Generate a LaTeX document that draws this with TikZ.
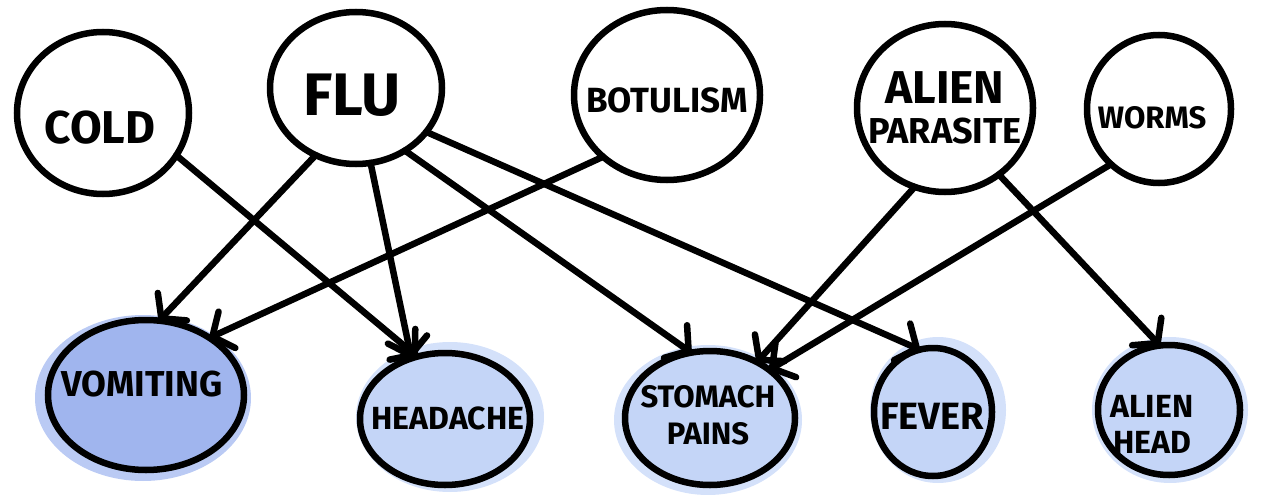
\documentclass[tikz,border=0pt]{standalone}
\usepackage{fontspec}
\setmainfont{Fira Sans}
\usetikzlibrary{shapes.geometric,arrows.meta}
\definecolor{blueA}{RGB}{160,181,238}
\definecolor{blueB}{RGB}{196,213,247}
\definecolor{haloA}{RGB}{186,202,244}
\definecolor{haloB}{RGB}{212,225,250}
\begin{document}
\begin{tikzpicture}[x=1pt,y=-1pt,
  circ/.style={ellipse, draw, line width=6.5pt, inner sep=0pt, outer sep=0pt},
  obsA/.style={circ, fill=blueA},
  obsB/.style={circ, fill=blueB},
  lbl/.style={inner sep=0pt, align=center},
  edge/.style={line width=6.5pt, line cap=round, line join=round,
    -{Straight Barb[length=16pt,width=40pt,round]}}]
\useasboundingbox (0,0) rectangle (1261,495);
% halos (soft washes behind observed nodes)
\fill[haloA] (143,398) ellipse [x radius=108, y radius=83];
\fill[haloB] (450,417) ellipse [x radius=94, y radius=75];
\fill[haloB] (708,420) ellipse [x radius=94, y radius=75];
\fill[haloB] (938,410) ellipse [x radius=68, y radius=73];
\fill[haloB] (1170,410) ellipse [x radius=78, y radius=73];
% parent nodes
\node[circ, minimum width=172pt, minimum height=162pt] (cold) at (103,113) {};
\node[circ, minimum width=172pt, minimum height=152pt] (flu) at (356,88) {};
\node[circ, minimum width=186pt, minimum height=170pt] (botulism) at (667,95) {};
\node[circ, minimum width=176pt, minimum height=168pt] (alien) at (945,108) {};
\node[circ, minimum width=144pt, minimum height=148pt] (worms) at (1159,109) {};
% symptom nodes
\node[obsA, minimum width=196pt, minimum height=150pt] (vomiting) at (146,395) {};
\node[obsB, minimum width=170pt, minimum height=132pt] (headache) at (445,419) {};
\node[obsB, minimum width=170pt, minimum height=134pt] (stomach) at (710,418) {};
\node[obsB, minimum width=118pt, minimum height=128pt] (fever) at (933,412) {};
\node[obsB, minimum width=142pt, minimum height=130pt] (alienhead) at (1169,410) {};
% labels
\node[lbl, font=\fontsize{46}{46}\selectfont\bfseries] (coldt) at (100,128) {COLD};
\node[lbl, font=\fontsize{60}{60}\selectfont\bfseries] (flut) at (352,95) {FLU};
\node[lbl, font=\fontsize{35}{35}\selectfont\bfseries] (botulismt) at (667,100) {BOTULISM};
\node[lbl, font=\fontsize{36}{40}\selectfont\bfseries] (alient) at (945,108) {\fontsize{46}{46}\selectfont ALIEN\\PARASITE};
\node[lbl, font=\fontsize{31}{31}\selectfont\bfseries] (wormst) at (1152,118) {WORMS};
\node[lbl, font=\fontsize{36}{36}\selectfont\bfseries] (vomitingt) at (142,384) {VOMITING};
\node[lbl, font=\fontsize{32}{32}\selectfont\bfseries] (headachet) at (448,418) {HEADACHE};
\node[lbl, font=\fontsize{31}{37}\selectfont\bfseries] (stomacht) at (708,415) {STOMACH\\PAINS};
\node[lbl, font=\fontsize{38}{38}\selectfont\bfseries] (fevert) at (932,416) {FEVER};
\node[lbl, font=\fontsize{32}{36}\selectfont\bfseries] (alienheadt) at (1152,424) {ALIEN\\HEAD};
% edges
\draw[edge] (cold.-30) -- (headache.114);
\draw[edge] (flu.-121) -- (vomiting.80);
\draw[edge] (flu.-79) -- (headache.119);
\draw[edge] (flu.-52) -- (stomach.106);
\draw[edge] (flu.-32) -- (fever.102);
\draw[edge] (botulism.-136) -- (vomiting.42);
\draw[edge] (alien.-111) -- (stomach.50);
\draw[edge] (alien.-51) -- (alienhead.98);
\draw[edge] (worms.-131) -- (stomach.39);
\end{tikzpicture}
\end{document}
